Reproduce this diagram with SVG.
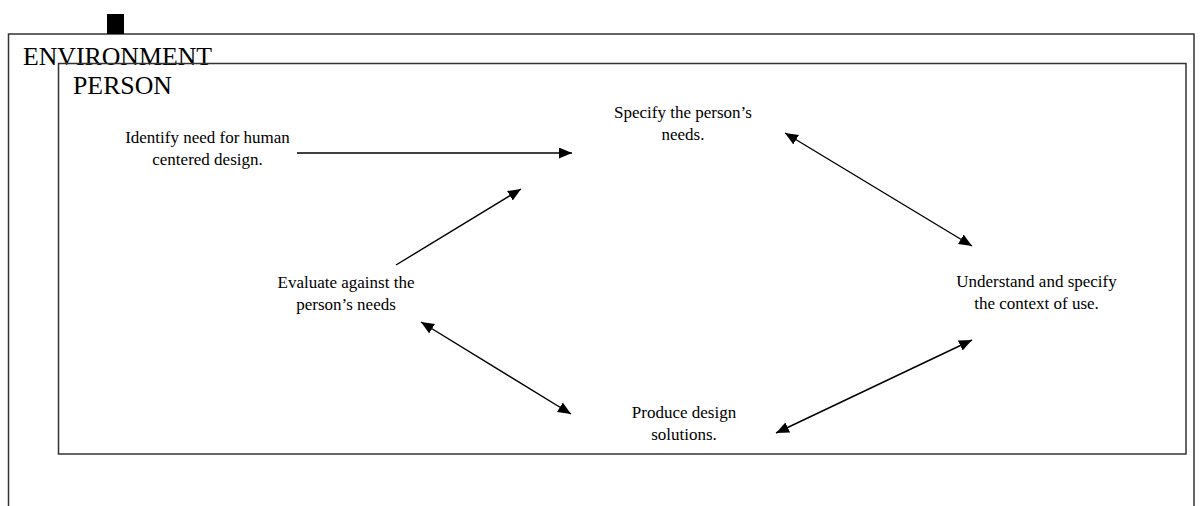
<svg xmlns="http://www.w3.org/2000/svg" width="1200" height="506" viewBox="0 0 1200 506">
  <style>
    .frame { fill: none; stroke: #333; stroke-width: 1.5; }
    .title { font-family: "Liberation Serif", "Times New Roman", serif; font-size: 25px; fill: #000; }
    .lbl { font-family: "Liberation Serif", "Times New Roman", serif; font-size: 17px; fill: #000; text-anchor: middle; }
    .conn { stroke: #000; stroke-width: 1.4; fill: none; }
  </style>
  <defs>
    <marker id="ah" markerUnits="userSpaceOnUse" markerWidth="14" markerHeight="12" refX="13" refY="5.5" orient="auto-start-reverse">
      <path d="M0,0 L13,5.5 L0,11 z" fill="#000"/>
    </marker>
  </defs>
  <rect width="1200" height="506" fill="#fff"/>

  <g id="environment">
    <rect class="frame" x="8.5" y="34" width="1185.5" height="520"/>
    <rect x="107" y="14" width="17" height="20" fill="#000"/>
    <text class="title" x="23" y="65" textLength="189" lengthAdjust="spacingAndGlyphs">ENVIRONMENT</text>
  </g>

  <g id="person">
    <rect class="frame" x="58.5" y="63.5" width="1127.5" height="390.5"/>
    <text class="title" x="73" y="94" textLength="99" lengthAdjust="spacingAndGlyphs">PERSON</text>
  </g>

  <g id="identify">
    <text class="lbl" x="207.5" y="143">Identify need for human</text>
    <text class="lbl" x="207.5" y="165">centered design.</text>
  </g>

  <g id="specify">
    <text class="lbl" x="683" y="118">Specify the person’s</text>
    <text class="lbl" x="683" y="140">needs.</text>
  </g>

  <g id="evaluate">
    <text class="lbl" x="346" y="288">Evaluate against the</text>
    <text class="lbl" x="346" y="310">person’s needs</text>
  </g>

  <g id="understand">
    <text class="lbl" x="1036.5" y="287">Understand and specify</text>
    <text class="lbl" x="1036.5" y="308.5">the context of use.</text>
  </g>

  <g id="produce">
    <text class="lbl" x="684" y="418">Produce design</text>
    <text class="lbl" x="684" y="440">solutions.</text>
  </g>

  <g id="connectors">
    <line class="conn" x1="297" y1="153" x2="572" y2="153" marker-end="url(#ah)"/>
    <line class="conn" x1="785" y1="133" x2="972" y2="246" marker-start="url(#ah)" marker-end="url(#ah)"/>
    <line class="conn" x1="396" y1="265" x2="521" y2="189" marker-end="url(#ah)"/>
    <line class="conn" x1="421" y1="322" x2="571" y2="414" marker-start="url(#ah)" marker-end="url(#ah)"/>
    <line class="conn" x1="776" y1="433" x2="972" y2="340" marker-start="url(#ah)" marker-end="url(#ah)"/>
  </g>
</svg>
